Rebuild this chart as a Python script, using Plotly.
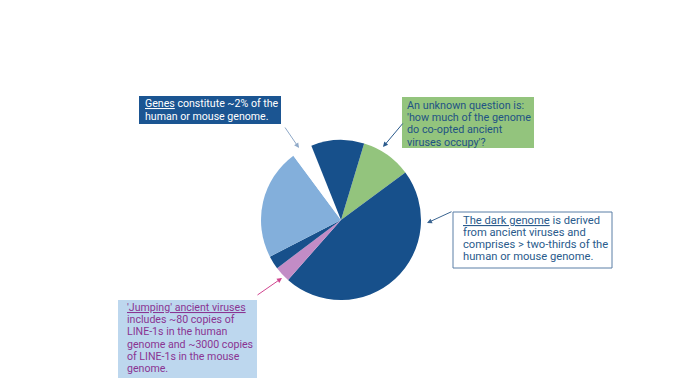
import plotly.graph_objects as go

W, H = 696, 385

# Slice data (clockwise, starting from the green slice)
labels = ["Co-opted ancient viruses", "Dark genome", "Jumping ancient viruses",
          "Other (small)", "Other repeats", "Genes", "Other (top)"]
values = [10.2, 46.6, 3.2, 2.7, 22.4, 4.1, 10.7]
colors = ["#93C47D", "#17508B", "#C28CC6", "#17508B", "#83AFDB", "#FFFFFF", "#17508B"]

# Callout texts (one entry per line)
genes_lines = ["<span style='text-decoration:underline'>Genes</span> constitute ~2% of the",
               "human or mouse genome."]
question_lines = ["An unknown question is:", "'how much of the genome",
                  "do co-opted ancient", "viruses occupy'?"]
dark_lines = ["<span style='text-decoration:underline'>The dark genome</span> is derived",
              "from ancient viruses and", "comprises > two-thirds of the",
              "human or mouse genome."]
jumping_lines = ["<span style='text-decoration:underline'>'Jumping' ancient viruses</span>",
                 "includes ~80 copies of", "LINE-1s in the human",
                 "genome and ~3000 copies", "of LINE-1s in the mouse", "genome."]


def px(x):
    return x / W


def py(y):
    return 1 - y / H


fig = go.Figure()
fig.add_trace(go.Pie(
    labels=labels, values=values, sort=False, direction="clockwise",
    rotation=16.8, textinfo="none", hoverinfo="label+percent",
    marker=dict(colors=colors, line=dict(width=0)),
    domain=dict(x=[px(261), px(421)], y=[py(300), py(140)]),
    showlegend=False,
))

font_family = "Roboto"
pitch = 12.2

boxes = [
    dict(rect=(139, 96, 281, 124), bg="#1B5592", border=None, fc="#FFFFFF",
         tx=143, ty=104, fs=10.6, lines=genes_lines),
    dict(rect=(402, 97, 534, 148), bg="#93C47D", border=None, fc="#1F5384",
         tx=405, ty=105.5, fs=10.8, lines=question_lines),
    dict(rect=(453, 212, 612, 268), bg="#FFFFFF", border="#5B7FA6", fc="#2A5B8C",
         tx=461, ty=220, fs=11.2, lines=dark_lines),
    dict(rect=(118, 300, 257, 378), bg="#BDD7EE", border=None, fc="#8A3492",
         tx=125, ty=307.5, fs=10.6, lines=jumping_lines),
]

for b in boxes:
    x0, y0, x1, y1 = b["rect"]
    fig.add_shape(
        type="rect", xref="paper", yref="paper",
        x0=px(x0), x1=px(x1), y0=py(y1), y1=py(y0),
        fillcolor=b["bg"],
        line=dict(color=b["border"] or b["bg"], width=1 if b["border"] else 0),
        layer="above",
    )
    for i, line in enumerate(b["lines"]):
        fig.add_annotation(
            x=px(b["tx"]), y=py(b["ty"] + i * pitch), xref="paper", yref="paper",
            xanchor="left", yanchor="middle", showarrow=False,
            text=line, align="left",
            font=dict(family=font_family, size=b["fs"], color=b["fc"]),
        )

arrows = [
    dict(tail=(284, 126), head=(299, 148), color="#8FA9C8"),
    dict(tail=(404, 122), head=(383, 147), color="#2A5A8C"),
    dict(tail=(453, 211), head=(427, 223), color="#3A6490"),
    dict(tail=(256, 296), head=(282, 278), color="#D1458F"),
]
for a in arrows:
    fig.add_annotation(
        x=px(a["head"][0]), y=py(a["head"][1]), xref="paper", yref="paper",
        ax=a["tail"][0] - a["head"][0], ay=a["tail"][1] - a["head"][1],
        axref="pixel", ayref="pixel",
        text="", showarrow=True, arrowhead=2, arrowsize=1, arrowwidth=1,
        arrowcolor=a["color"],
    )

fig.update_layout(
    width=W, height=H, margin=dict(l=0, r=0, t=0, b=0),
    paper_bgcolor="#FFFFFF", plot_bgcolor="#FFFFFF",
    font=dict(family=font_family),
)

fig.write_html("out.html", config={"displayModeBar": False},
               post_script="document.body.style.margin='0';")
